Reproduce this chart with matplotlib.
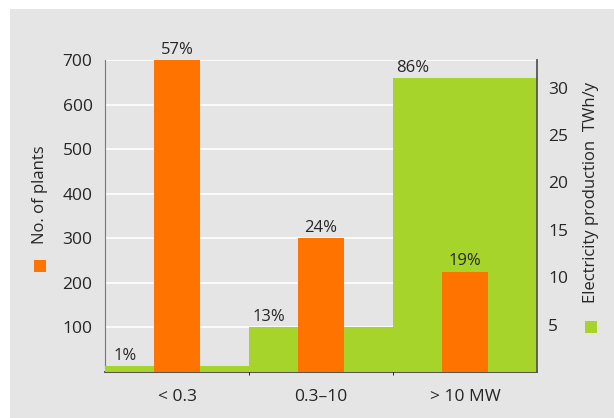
import numpy as np
import matplotlib.pyplot as plt
from matplotlib.patches import Rectangle

plt.rcParams['font.family'] = ['Open Sans', 'DejaVu Sans']

# Plant size classes
categories = ['< 0.3', '0.3\u201310', '> 10 MW']
plants = [700, 300, 225]            # number of plants
plants_share = ['57%', '24%', '19%']
production = [0.6, 4.7, 31.0]       # electricity production, TWh/y
production_share = ['1%', '13%', '86%']

orange = '#ff7300'
green = '#a6d42a'
bg = '#e5e5e5'
txt = '#262626'

fig = plt.figure(figsize=(6.14, 4.18), dpi=100)
fig.patch.set_facecolor('white')
fig.patches.append(Rectangle((10 / 614, 0), 1, 1 - 9 / 418, transform=fig.transFigure,
                             facecolor=bg, edgecolor='none', zorder=-10))

pos = [105 / 614, 46 / 418, 432 / 614, 312 / 418]
x = np.arange(len(categories))

# base axes: background, grid and left scale
ax = fig.add_axes(pos)
ax.set_facecolor(bg)
ax.set_xlim(-0.5, 2.5)
ax.set_ylim(0, 700)
ax.set_yticks([100, 200, 300, 400, 500, 600, 700])
ax.yaxis.grid(True, color='white', linewidth=1.2)
ax.set_axisbelow(True)
ax.tick_params(axis='y', length=0, labelsize=12.5, labelcolor=txt, pad=9)
ax.set_xticks(x)
ax.set_xticklabels(categories, fontsize=12.5, color=txt)
ax.tick_params(axis='x', length=0, pad=12)
ax.set_xticks([0.5, 1.5], minor=True)
ax.tick_params(axis='x', which='minor', direction='in', length=6, color='#444444')
for s in ['top', 'right']:
    ax.spines[s].set_visible(False)
ax.spines['left'].set_color('#777777')
ax.spines['bottom'].set_color('#444444')
ax.spines['bottom'].set_linewidth(1.3)

# electricity production on the right scale
ax2 = fig.add_axes(pos, sharex=ax)
ax2.patch.set_visible(False)
ax2.bar(x, production, width=1.0, color=green, zorder=2)
ax2.set_ylim(0, 32.9)
ax2.set_yticks([5, 10, 15, 20, 25, 30])
ax2.yaxis.tick_right()
ax2.tick_params(axis='y', direction='in', length=8, width=1.3, color='#4f5f10',
                labelsize=12.5, labelcolor=txt, pad=8)
ax2.tick_params(axis='x', bottom=False, labelbottom=False)
for s in ['top', 'left', 'bottom']:
    ax2.spines[s].set_visible(False)
ax2.spines['right'].set_color('#555555')
ax2.spines['right'].set_linewidth(1.3)
for xi, v, lab in zip(x, production, production_share):
    ax2.text(xi - 0.36, v + 0.25, lab, ha='center', va='bottom', fontsize=12, color=txt)

# number of plants on the left scale
ax3 = fig.add_axes(pos, sharex=ax, sharey=ax)
ax3.patch.set_visible(False)
ax3.axis('off')
ax3.bar(x, plants, width=0.32, color=orange)
for xi, v, lab in zip(x, plants, plants_share):
    ax3.text(xi, v + 5, lab, ha='center', va='bottom', fontsize=12, color=txt)

# axis titles with colour keys
fig.text(40 / 614, 1 - 195 / 418, 'No. of plants', rotation=90, ha='center', va='center',
         fontsize=12, color=txt)
fig.patches.append(Rectangle((34 / 614, 1 - 272 / 418), 12 / 614, 12 / 418,
                             transform=fig.transFigure, facecolor=orange, edgecolor='none'))
fig.text(591 / 614, 1 - 192 / 418, 'Electricity production  TWh/y', rotation=90,
         ha='center', va='center', fontsize=12, color=txt)
fig.patches.append(Rectangle((585 / 614, 1 - 333 / 418), 12 / 614, 12 / 418,
                             transform=fig.transFigure, facecolor=green, edgecolor='none'))

fig.savefig('out.png', dpi=100)
